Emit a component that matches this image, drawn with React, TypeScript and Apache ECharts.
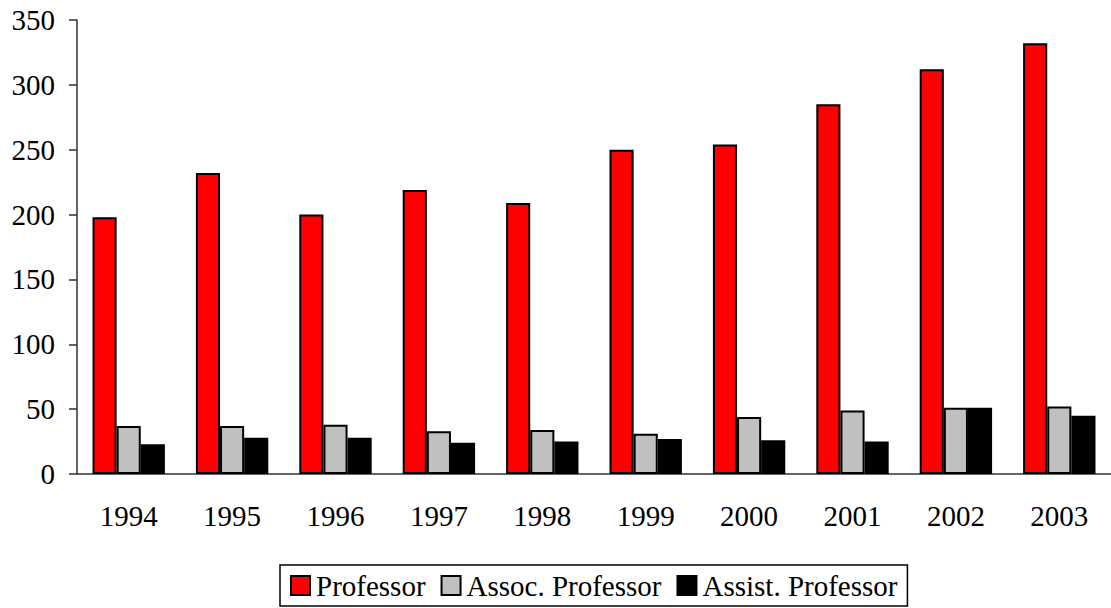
import React, { useEffect, useRef } from "react";
import * as echarts from "echarts";

const years = ["1994", "1995", "1996", "1997", "1998", "1999", "2000", "2001", "2002", "2003"];
const professor = [198, 232, 200, 219, 209, 250, 254, 285, 312, 332];
const assocProfessor = [37, 37, 38, 33, 34, 31, 44, 49, 51, 52];
const assistProfessor = [23, 28, 28, 24, 25, 27, 26, 25, 51, 45];

const FONT = '"Liberation Serif", "Times New Roman", serif';

export default function App() {
  const ref = useRef<HTMLDivElement>(null);
  useEffect(() => {
    if (!ref.current) return;
    const chart = echarts.init(ref.current, undefined, { renderer: "svg" });
    const barStyle = (color: string) => ({
      color,
      borderColor: "#000",
      borderWidth: 2,
    });
    chart.setOption({
      animation: false,
      backgroundColor: "#fff",
      textStyle: { fontFamily: FONT, color: "#000" },
      grid: { left: 77, top: 20, width: 1042, height: 454, containLabel: false },
      legend: {
        left: 280,
        top: 565,
        padding: [6, 10, 6, 10],
        itemGap: 15,
        itemWidth: 19,
        itemHeight: 19,
        borderColor: "#000",
        borderWidth: 1.5,
        icon: "rect",
        textStyle: { fontFamily: FONT, fontSize: 29, color: "#000", padding: [0, 0, 0, 1] },
        data: ["Professor", "Assoc. Professor", "Assist. Professor"],
      },
      xAxis: {
        type: "category",
        data: years,
        boundaryGap: true,
        axisLine: { lineStyle: { color: "#333", width: 1.5 } },
        axisTick: { length: 9, lineStyle: { color: "#333", width: 1.5 } },
        axisLabel: { fontFamily: FONT, fontSize: 29, color: "#000", margin: 27 },
      },
      yAxis: {
        type: "value",
        min: 0,
        max: 350,
        interval: 50,
        splitLine: { show: false },
        axisLine: { show: true, lineStyle: { color: "#333", width: 1.5 } },
        axisTick: { show: true, length: 8, lineStyle: { color: "#333", width: 1.5 } },
        axisLabel: { fontFamily: FONT, fontSize: 29, color: "#000", margin: 22 },
      },
      series: [
        {
          name: "Professor",
          type: "bar",
          data: professor,
          barGap: "0%",
          barCategoryGap: "30%",
          itemStyle: barStyle("#ff0000"),
        },
        {
          name: "Assoc. Professor",
          type: "bar",
          data: assocProfessor,
          barGap: "0%",
          barCategoryGap: "30%",
          itemStyle: barStyle("#c0c0c0"),
        },
        {
          name: "Assist. Professor",
          type: "bar",
          data: assistProfessor,
          barGap: "0%",
          barCategoryGap: "30%",
          itemStyle: barStyle("#000000"),
        },
      ],
    });
    return () => chart.dispose();
  }, []);
  return (
    <div
      ref={ref}
      style={{ position: "fixed", left: 0, top: 0, width: 1111, height: 608, background: "#fff" }}
    />
  );
}
